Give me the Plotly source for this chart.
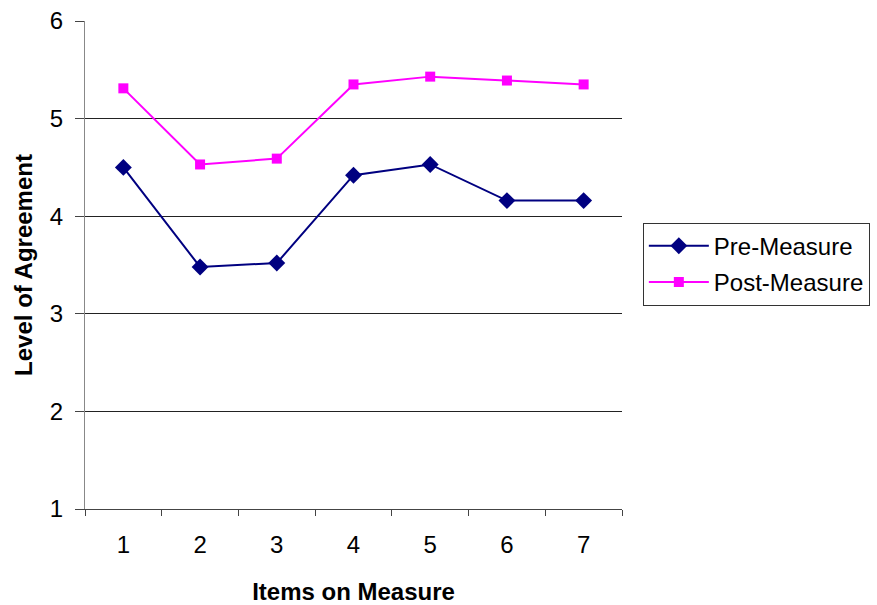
import plotly.graph_objects as go

# Items on the measure and mean agreement scores
items = ["1", "2", "3", "4", "5", "6", "7"]
pre_measure = [4.50, 3.48, 3.52, 4.42, 4.53, 4.16, 4.16]
post_measure = [5.31, 4.53, 4.59, 5.35, 5.43, 5.39, 5.35]

y_ticks = [1, 2, 3, 4, 5, 6]

FONT = "Liberation Sans, Arial, sans-serif"

fig = go.Figure()
fig.add_trace(go.Scatter(
    x=items, y=pre_measure, name="Pre-Measure", mode="lines+markers",
    legendgroup="pre",
    line=dict(color="#000080", width=2),
    marker=dict(symbol="diamond", size=13, color="#000080"),
))
fig.add_trace(go.Scatter(
    x=items, y=post_measure, name="Post-Measure", mode="lines+markers",
    legendgroup="post",
    line=dict(color="#FF00FF", width=2),
    marker=dict(symbol="square", size=10, color="#FF00FF"),
))

fig.update_layout(
    width=877, height=605,
    margin=dict(l=85, r=255, t=21, b=96),
    paper_bgcolor="white", plot_bgcolor="white",
    font=dict(family=FONT, size=24, color="black"),
    legend=dict(
        xref="container", yref="container",
        x=0.733, y=0.632, xanchor="left", yanchor="top",
        bordercolor="#333", borderwidth=1,
        font=dict(family=FONT, size=24, color="black"),
        traceorder="grouped", tracegroupgap=2, itemwidth=60,
    ),
    xaxis=dict(
        type="category", tickson="boundaries", ticks="outside", ticklen=6,
        tickcolor="#444", showline=True, linecolor="#444", linewidth=1,
        showgrid=False, range=[-0.5, 6.5], ticklabelstandoff=14,
        automargin=False,
        title=dict(text="<b>Items on Measure</b>", font=dict(size=24), standoff=26),
    ),
    yaxis=dict(
        range=[1, 6], tickvals=y_ticks, ticks="outside", ticklen=9,
        tickcolor="#444", showline=True, linecolor="#888", linewidth=1,
        showgrid=True, gridcolor="#222", gridwidth=1, zeroline=False,
        ticklabelstandoff=7, automargin=False,
        title=dict(text="<b>Level of Agreement</b>", font=dict(size=24), standoff=10),
    ),
)

fig.write_html("out.html")
